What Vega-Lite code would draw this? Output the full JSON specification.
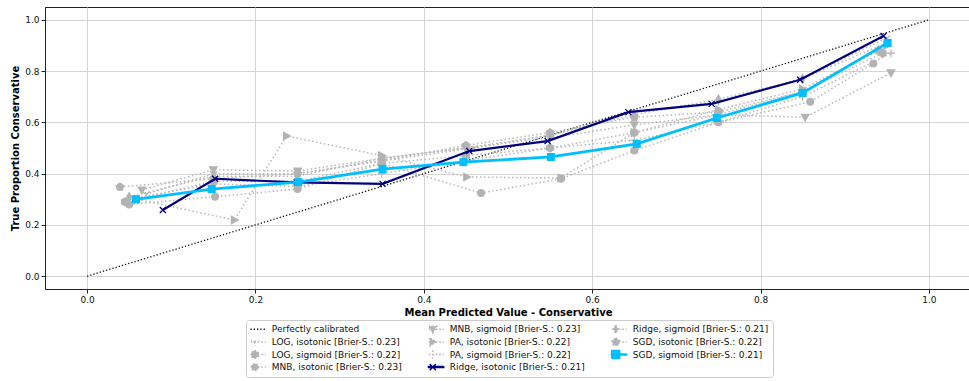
{
  "$schema": "https://vega.github.io/schema/vega-lite/v6.json",
  "width": 926,
  "height": 282,
  "autosize": {"type": "none"},
  "padding": {"left": 45, "top": 7, "right": 0, "bottom": 92},
  "background": "white",
  "config": {
    "font": "DejaVu Sans",
    "view": {"stroke": "#222222", "strokeWidth": 1},
    "axis": {
      "grid": true, "gridColor": "#d4d4d4", "gridWidth": 1,
      "domainColor": "#222222", "tickColor": "#222222", "tickSize": 4,
      "labelFont": "DejaVu Sans", "labelFontSize": 9, "labelColor": "#111111", "labelPadding": 2,
      "titleFont": "DejaVu Sans", "titleFontSize": 10, "titleFontWeight": "bold", "titleColor": "#000000"
    },
    "legend": {
      "orient": "none", "legendX": 201, "legendY": 313, "columns": 3,
      "labelFont": "DejaVu Sans", "labelFontSize": 9, "labelColor": "#111111",
      "symbolSize": 64, "symbolOpacity": 1, "symbolStrokeWidth": 1.5,
      "labelOffset": 12, "rowPadding": 1.6, "columnPadding": 26, "padding": 3.8, "clipHeight": 11,
      "strokeColor": "#cccccc", "fillColor": "#ffffff", "cornerRadius": 3
    }
  },
  "datasets": {
    "cal": [
      {"s": "Perfectly calibrated", "x": 0, "y": 0},
      {"s": "Perfectly calibrated", "x": 1, "y": 1},

      {"s": "LOG, isotonic [Brier-S.: 0.23]", "x": 0.07, "y": 0.32},
      {"s": "LOG, isotonic [Brier-S.: 0.23]", "x": 0.15, "y": 0.40},
      {"s": "LOG, isotonic [Brier-S.: 0.23]", "x": 0.25, "y": 0.40},
      {"s": "LOG, isotonic [Brier-S.: 0.23]", "x": 0.35, "y": 0.45},
      {"s": "LOG, isotonic [Brier-S.: 0.23]", "x": 0.46, "y": 0.50},
      {"s": "LOG, isotonic [Brier-S.: 0.23]", "x": 0.55, "y": 0.55},
      {"s": "LOG, isotonic [Brier-S.: 0.23]", "x": 0.65, "y": 0.64},
      {"s": "LOG, isotonic [Brier-S.: 0.23]", "x": 0.75, "y": 0.68},
      {"s": "LOG, isotonic [Brier-S.: 0.23]", "x": 0.85, "y": 0.77},
      {"s": "LOG, isotonic [Brier-S.: 0.23]", "x": 0.95, "y": 0.93},

      {"s": "LOG, sigmoid [Brier-S.: 0.22]", "x": 0.045, "y": 0.29},
      {"s": "LOG, sigmoid [Brier-S.: 0.22]", "x": 0.15, "y": 0.37},
      {"s": "LOG, sigmoid [Brier-S.: 0.22]", "x": 0.25, "y": 0.37},
      {"s": "LOG, sigmoid [Brier-S.: 0.22]", "x": 0.35, "y": 0.44},
      {"s": "LOG, sigmoid [Brier-S.: 0.22]", "x": 0.45, "y": 0.47},
      {"s": "LOG, sigmoid [Brier-S.: 0.22]", "x": 0.55, "y": 0.50},
      {"s": "LOG, sigmoid [Brier-S.: 0.22]", "x": 0.65, "y": 0.56},
      {"s": "LOG, sigmoid [Brier-S.: 0.22]", "x": 0.75, "y": 0.63},
      {"s": "LOG, sigmoid [Brier-S.: 0.22]", "x": 0.85, "y": 0.72},
      {"s": "LOG, sigmoid [Brier-S.: 0.22]", "x": 0.945, "y": 0.87},

      {"s": "MNB, isotonic [Brier-S.: 0.23]", "x": 0.05, "y": 0.28},
      {"s": "MNB, isotonic [Brier-S.: 0.23]", "x": 0.152, "y": 0.31},
      {"s": "MNB, isotonic [Brier-S.: 0.23]", "x": 0.25, "y": 0.34},
      {"s": "MNB, isotonic [Brier-S.: 0.23]", "x": 0.35, "y": 0.44},
      {"s": "MNB, isotonic [Brier-S.: 0.23]", "x": 0.468, "y": 0.324},
      {"s": "MNB, isotonic [Brier-S.: 0.23]", "x": 0.563, "y": 0.38},
      {"s": "MNB, isotonic [Brier-S.: 0.23]", "x": 0.65, "y": 0.49},
      {"s": "MNB, isotonic [Brier-S.: 0.23]", "x": 0.75, "y": 0.60},
      {"s": "MNB, isotonic [Brier-S.: 0.23]", "x": 0.859, "y": 0.68},
      {"s": "MNB, isotonic [Brier-S.: 0.23]", "x": 0.934, "y": 0.83},

      {"s": "MNB, sigmoid [Brier-S.: 0.23]", "x": 0.065, "y": 0.336},
      {"s": "MNB, sigmoid [Brier-S.: 0.23]", "x": 0.15, "y": 0.415},
      {"s": "MNB, sigmoid [Brier-S.: 0.23]", "x": 0.25, "y": 0.41},
      {"s": "MNB, sigmoid [Brier-S.: 0.23]", "x": 0.35, "y": 0.46},
      {"s": "MNB, sigmoid [Brier-S.: 0.23]", "x": 0.45, "y": 0.50},
      {"s": "MNB, sigmoid [Brier-S.: 0.23]", "x": 0.55, "y": 0.54},
      {"s": "MNB, sigmoid [Brier-S.: 0.23]", "x": 0.65, "y": 0.59},
      {"s": "MNB, sigmoid [Brier-S.: 0.23]", "x": 0.75, "y": 0.63},
      {"s": "MNB, sigmoid [Brier-S.: 0.23]", "x": 0.853, "y": 0.62},
      {"s": "MNB, sigmoid [Brier-S.: 0.23]", "x": 0.955, "y": 0.793},

      {"s": "PA, isotonic [Brier-S.: 0.22]", "x": 0.06, "y": 0.30},
      {"s": "PA, isotonic [Brier-S.: 0.22]", "x": 0.175, "y": 0.219},
      {"s": "PA, isotonic [Brier-S.: 0.22]", "x": 0.237, "y": 0.547},
      {"s": "PA, isotonic [Brier-S.: 0.22]", "x": 0.35, "y": 0.47},
      {"s": "PA, isotonic [Brier-S.: 0.22]", "x": 0.451, "y": 0.387},
      {"s": "PA, isotonic [Brier-S.: 0.22]", "x": 0.563, "y": 0.383},
      {"s": "PA, isotonic [Brier-S.: 0.22]", "x": 0.65, "y": 0.56},
      {"s": "PA, isotonic [Brier-S.: 0.22]", "x": 0.75, "y": 0.65},
      {"s": "PA, isotonic [Brier-S.: 0.22]", "x": 0.85, "y": 0.73},
      {"s": "PA, isotonic [Brier-S.: 0.22]", "x": 0.95, "y": 0.90},

      {"s": "PA, sigmoid [Brier-S.: 0.22]", "x": 0.05, "y": 0.30},
      {"s": "PA, sigmoid [Brier-S.: 0.22]", "x": 0.15, "y": 0.36},
      {"s": "PA, sigmoid [Brier-S.: 0.22]", "x": 0.25, "y": 0.35},
      {"s": "PA, sigmoid [Brier-S.: 0.22]", "x": 0.35, "y": 0.40},
      {"s": "PA, sigmoid [Brier-S.: 0.22]", "x": 0.45, "y": 0.45},
      {"s": "PA, sigmoid [Brier-S.: 0.22]", "x": 0.55, "y": 0.50},
      {"s": "PA, sigmoid [Brier-S.: 0.22]", "x": 0.65, "y": 0.53},
      {"s": "PA, sigmoid [Brier-S.: 0.22]", "x": 0.75, "y": 0.60},
      {"s": "PA, sigmoid [Brier-S.: 0.22]", "x": 0.85, "y": 0.70},
      {"s": "PA, sigmoid [Brier-S.: 0.22]", "x": 0.955, "y": 0.87},

      {"s": "Ridge, sigmoid [Brier-S.: 0.21]", "x": 0.05, "y": 0.31},
      {"s": "Ridge, sigmoid [Brier-S.: 0.21]", "x": 0.15, "y": 0.39},
      {"s": "Ridge, sigmoid [Brier-S.: 0.21]", "x": 0.25, "y": 0.39},
      {"s": "Ridge, sigmoid [Brier-S.: 0.21]", "x": 0.35, "y": 0.46},
      {"s": "Ridge, sigmoid [Brier-S.: 0.21]", "x": 0.45, "y": 0.50},
      {"s": "Ridge, sigmoid [Brier-S.: 0.21]", "x": 0.55, "y": 0.55},
      {"s": "Ridge, sigmoid [Brier-S.: 0.21]", "x": 0.65, "y": 0.63},
      {"s": "Ridge, sigmoid [Brier-S.: 0.21]", "x": 0.75, "y": 0.69},
      {"s": "Ridge, sigmoid [Brier-S.: 0.21]", "x": 0.85, "y": 0.77},
      {"s": "Ridge, sigmoid [Brier-S.: 0.21]", "x": 0.95, "y": 0.91},

      {"s": "SGD, isotonic [Brier-S.: 0.22]", "x": 0.039, "y": 0.348},
      {"s": "SGD, isotonic [Brier-S.: 0.22]", "x": 0.15, "y": 0.38},
      {"s": "SGD, isotonic [Brier-S.: 0.22]", "x": 0.25, "y": 0.40},
      {"s": "SGD, isotonic [Brier-S.: 0.22]", "x": 0.35, "y": 0.45},
      {"s": "SGD, isotonic [Brier-S.: 0.22]", "x": 0.45, "y": 0.51},
      {"s": "SGD, isotonic [Brier-S.: 0.22]", "x": 0.55, "y": 0.56},
      {"s": "SGD, isotonic [Brier-S.: 0.22]", "x": 0.65, "y": 0.62},
      {"s": "SGD, isotonic [Brier-S.: 0.22]", "x": 0.75, "y": 0.64},
      {"s": "SGD, isotonic [Brier-S.: 0.22]", "x": 0.85, "y": 0.72},
      {"s": "SGD, isotonic [Brier-S.: 0.22]", "x": 0.94, "y": 0.88},

      {"s": "Ridge, isotonic [Brier-S.: 0.21]", "x": 0.09, "y": 0.258},
      {"s": "Ridge, isotonic [Brier-S.: 0.21]", "x": 0.152, "y": 0.38},
      {"s": "Ridge, isotonic [Brier-S.: 0.21]", "x": 0.249, "y": 0.366},
      {"s": "Ridge, isotonic [Brier-S.: 0.21]", "x": 0.351, "y": 0.36},
      {"s": "Ridge, isotonic [Brier-S.: 0.21]", "x": 0.454, "y": 0.488},
      {"s": "Ridge, isotonic [Brier-S.: 0.21]", "x": 0.547, "y": 0.527},
      {"s": "Ridge, isotonic [Brier-S.: 0.21]", "x": 0.643, "y": 0.64},
      {"s": "Ridge, isotonic [Brier-S.: 0.21]", "x": 0.742, "y": 0.672},
      {"s": "Ridge, isotonic [Brier-S.: 0.21]", "x": 0.847, "y": 0.766},
      {"s": "Ridge, isotonic [Brier-S.: 0.21]", "x": 0.946, "y": 0.937},

      {"s": "SGD, sigmoid [Brier-S.: 0.21]", "x": 0.058, "y": 0.30},
      {"s": "SGD, sigmoid [Brier-S.: 0.21]", "x": 0.148, "y": 0.34},
      {"s": "SGD, sigmoid [Brier-S.: 0.21]", "x": 0.251, "y": 0.367},
      {"s": "SGD, sigmoid [Brier-S.: 0.21]", "x": 0.351, "y": 0.418},
      {"s": "SGD, sigmoid [Brier-S.: 0.21]", "x": 0.447, "y": 0.445},
      {"s": "SGD, sigmoid [Brier-S.: 0.21]", "x": 0.551, "y": 0.465},
      {"s": "SGD, sigmoid [Brier-S.: 0.21]", "x": 0.653, "y": 0.516},
      {"s": "SGD, sigmoid [Brier-S.: 0.21]", "x": 0.748, "y": 0.617},
      {"s": "SGD, sigmoid [Brier-S.: 0.21]", "x": 0.85, "y": 0.715},
      {"s": "SGD, sigmoid [Brier-S.: 0.21]", "x": 0.951, "y": 0.91}
    ]
  },
  "data": {"name": "cal"},
  "encoding": {
    "x": {
      "field": "x", "type": "quantitative",
      "scale": {"domain": [-0.05, 1.05], "nice": false, "zero": false},
      "axis": {"values": [0, 0.2, 0.4, 0.6, 0.8, 1], "format": ".1f", "title": "Mean Predicted Value - Conservative", "titlePadding": 3}
    },
    "y": {
      "field": "y", "type": "quantitative",
      "scale": {"domain": [-0.05, 1.05], "nice": false, "zero": false},
      "axis": {"values": [0, 0.2, 0.4, 0.6, 0.8, 1], "format": ".1f", "title": "True Proportion Conservative", "titlePadding": 4}
    }
  },
  "layer": [
    {
      "transform": [{"filter": "datum.s === 'Perfectly calibrated'"}],
      "mark": {"type": "line", "color": "#111111", "strokeWidth": 1.3, "strokeDash": [1.3, 2]}
    },
    {
      "transform": [{"filter": {"field": "s", "oneOf": ["LOG, isotonic [Brier-S.: 0.23]", "LOG, sigmoid [Brier-S.: 0.22]", "MNB, isotonic [Brier-S.: 0.23]", "MNB, sigmoid [Brier-S.: 0.23]", "PA, isotonic [Brier-S.: 0.22]", "PA, sigmoid [Brier-S.: 0.22]", "Ridge, sigmoid [Brier-S.: 0.21]", "SGD, isotonic [Brier-S.: 0.22]"]}}],
      "mark": {"type": "line", "color": "#b8b8b8", "strokeWidth": 1.5, "strokeDash": [1.5, 2.5]},
      "encoding": {"detail": {"field": "s", "type": "nominal"}}
    },
    {
      "transform": [{"filter": {"field": "s", "oneOf": ["LOG, isotonic [Brier-S.: 0.23]", "LOG, sigmoid [Brier-S.: 0.22]", "MNB, isotonic [Brier-S.: 0.23]", "MNB, sigmoid [Brier-S.: 0.23]", "PA, isotonic [Brier-S.: 0.22]", "PA, sigmoid [Brier-S.: 0.22]", "Ridge, sigmoid [Brier-S.: 0.21]", "SGD, isotonic [Brier-S.: 0.22]"]}}],
      "mark": {"type": "point", "filled": true, "fill": "#b3b3b3", "stroke": "#b3b3b3", "strokeWidth": 1.2, "opacity": 1, "size": 64},
      "encoding": {
        "shape": {
          "field": "s", "type": "nominal", "legend": null,
          "scale": {
            "domain": ["LOG, isotonic [Brier-S.: 0.23]", "LOG, sigmoid [Brier-S.: 0.22]", "MNB, isotonic [Brier-S.: 0.23]", "MNB, sigmoid [Brier-S.: 0.23]", "PA, isotonic [Brier-S.: 0.22]", "PA, sigmoid [Brier-S.: 0.22]", "Ridge, sigmoid [Brier-S.: 0.21]", "SGD, isotonic [Brier-S.: 0.22]"],
            "range": [
              "M0,0L0,1M0,0L-0.87,-0.5M0,0L0.87,-0.5",
              "M0,-1L0.87,-0.5L0.87,0.5L0,1L-0.87,0.5L-0.87,-0.5Z",
              "M0.85,0A0.85,0.85,0,1,1,-0.85,0A0.85,0.85,0,1,1,0.85,0Z",
              "M-0.95,-0.75L0.95,-0.75L0,0.95Z",
              "M-0.75,-0.95L-0.75,0.95L0.95,0Z",
              "M-1,0H1M0,-1V1",
              "M0,-1.05L0.6,0L0,1.05L-0.6,0Z",
              "M0,-1L0.95,-0.31L0.59,0.81L-0.59,0.81L-0.95,-0.31Z"
            ]
          }
        }
      }
    },
    {
      "transform": [{"filter": "datum.s === 'Ridge, isotonic [Brier-S.: 0.21]'"}],
      "mark": {"type": "line", "color": "#000080", "strokeWidth": 2.2}
    },
    {
      "transform": [{"filter": "datum.s === 'Ridge, isotonic [Brier-S.: 0.21]'"}],
      "mark": {"type": "point", "filled": false, "stroke": "#000080", "strokeWidth": 1.3, "opacity": 1, "size": 64, "shape": "M-0.75,-0.75L0.75,0.75M-0.75,0.75L0.75,-0.75"}
    },
    {
      "transform": [{"filter": "datum.s === 'SGD, sigmoid [Brier-S.: 0.21]'"}],
      "mark": {"type": "line", "color": "#00bfff", "strokeWidth": 2.8}
    },
    {
      "transform": [{"filter": "datum.s === 'SGD, sigmoid [Brier-S.: 0.21]'"}],
      "mark": {"type": "point", "filled": true, "fill": "#00bfff", "opacity": 1, "size": 64, "shape": "M-1,-1H1V1H-1Z"}
    },
    {
      "mark": {"type": "point", "opacity": 0, "size": 64},
      "encoding": {
        "stroke": {
          "field": "s", "type": "nominal", "legend": {"title": null},
          "scale": {
            "domain": ["Perfectly calibrated", "LOG, isotonic [Brier-S.: 0.23]", "LOG, sigmoid [Brier-S.: 0.22]", "MNB, isotonic [Brier-S.: 0.23]", "MNB, sigmoid [Brier-S.: 0.23]", "PA, isotonic [Brier-S.: 0.22]", "PA, sigmoid [Brier-S.: 0.22]", "Ridge, isotonic [Brier-S.: 0.21]", "Ridge, sigmoid [Brier-S.: 0.21]", "SGD, isotonic [Brier-S.: 0.22]", "SGD, sigmoid [Brier-S.: 0.21]"],
            "range": ["#111111", "#b3b3b3", "#b3b3b3", "#b3b3b3", "#b3b3b3", "#b3b3b3", "#b3b3b3", "#000080", "#b3b3b3", "#b3b3b3", "#00bfff"]
          }
        },
        "fill": {
          "field": "s", "type": "nominal", "legend": {"title": null},
          "scale": {
            "domain": ["Perfectly calibrated", "LOG, isotonic [Brier-S.: 0.23]", "LOG, sigmoid [Brier-S.: 0.22]", "MNB, isotonic [Brier-S.: 0.23]", "MNB, sigmoid [Brier-S.: 0.23]", "PA, isotonic [Brier-S.: 0.22]", "PA, sigmoid [Brier-S.: 0.22]", "Ridge, isotonic [Brier-S.: 0.21]", "Ridge, sigmoid [Brier-S.: 0.21]", "SGD, isotonic [Brier-S.: 0.22]", "SGD, sigmoid [Brier-S.: 0.21]"],
            "range": ["#111111", "#b3b3b3", "#b3b3b3", "#b3b3b3", "#b3b3b3", "#b3b3b3", "#b3b3b3", "#000080", "#b3b3b3", "#b3b3b3", "#00bfff"]
          }
        },
        "strokeDash": {
          "field": "s", "type": "nominal", "legend": {"title": null},
          "scale": {
            "domain": ["Perfectly calibrated", "LOG, isotonic [Brier-S.: 0.23]", "LOG, sigmoid [Brier-S.: 0.22]", "MNB, isotonic [Brier-S.: 0.23]", "MNB, sigmoid [Brier-S.: 0.23]", "PA, isotonic [Brier-S.: 0.22]", "PA, sigmoid [Brier-S.: 0.22]", "Ridge, isotonic [Brier-S.: 0.21]", "Ridge, sigmoid [Brier-S.: 0.21]", "SGD, isotonic [Brier-S.: 0.22]", "SGD, sigmoid [Brier-S.: 0.21]"],
            "range": [[1.3, 2], [1.5, 2], [1.5, 2], [1.5, 2], [1.5, 2], [1.5, 2], [1.5, 2], [1, 0], [1.5, 2], [1.5, 2], [1, 0]]
          }
        },
        "shape": {
          "field": "s", "type": "nominal", "legend": {"title": null},
          "scale": {
            "domain": ["Perfectly calibrated", "LOG, isotonic [Brier-S.: 0.23]", "LOG, sigmoid [Brier-S.: 0.22]", "MNB, isotonic [Brier-S.: 0.23]", "MNB, sigmoid [Brier-S.: 0.23]", "PA, isotonic [Brier-S.: 0.22]", "PA, sigmoid [Brier-S.: 0.22]", "Ridge, isotonic [Brier-S.: 0.21]", "Ridge, sigmoid [Brier-S.: 0.21]", "SGD, isotonic [Brier-S.: 0.22]", "SGD, sigmoid [Brier-S.: 0.21]"],
            "range": [
              "M-2.75,0H2.75",
              "M-2.75,0H2.75M0,0L0,1M0,0L-0.87,-0.5M0,0L0.87,-0.5",
              "M-2.75,0H2.75M0,-1L0.87,-0.5L0.87,0.5L0,1L-0.87,0.5L-0.87,-0.5Z",
              "M-2.75,0H2.75M0.85,0A0.85,0.85,0,1,1,-0.85,0A0.85,0.85,0,1,1,0.85,0Z",
              "M-2.75,0H2.75M-0.95,-0.75L0.95,-0.75L0,0.95Z",
              "M-2.75,0H2.75M-0.75,-0.95L-0.75,0.95L0.95,0Z",
              "M-2.75,0H2.75M-1,0H1M0,-1V1",
              "M-2.75,-0.12H2.75V0.12H-2.75ZM-0.75,-0.75L0.75,0.75M-0.75,0.75L0.75,-0.75",
              "M-2.75,0H2.75M0,-1.05L0.6,0L0,1.05L-0.6,0Z",
              "M-2.75,0H2.75M0,-1L0.95,-0.31L0.59,0.81L-0.59,0.81L-0.95,-0.31Z",
              "M-2.75,-0.15H2.75V0.15H-2.75ZM-1,-1H1V1H-1Z"
            ]
          }
        }
      }
    }
  ],
  "resolve": {
    "scale": {"shape": "independent", "stroke": "independent", "fill": "independent", "strokeDash": "independent"},
    "legend": {"shape": "independent", "stroke": "independent", "fill": "independent", "strokeDash": "independent"}
  }
}
